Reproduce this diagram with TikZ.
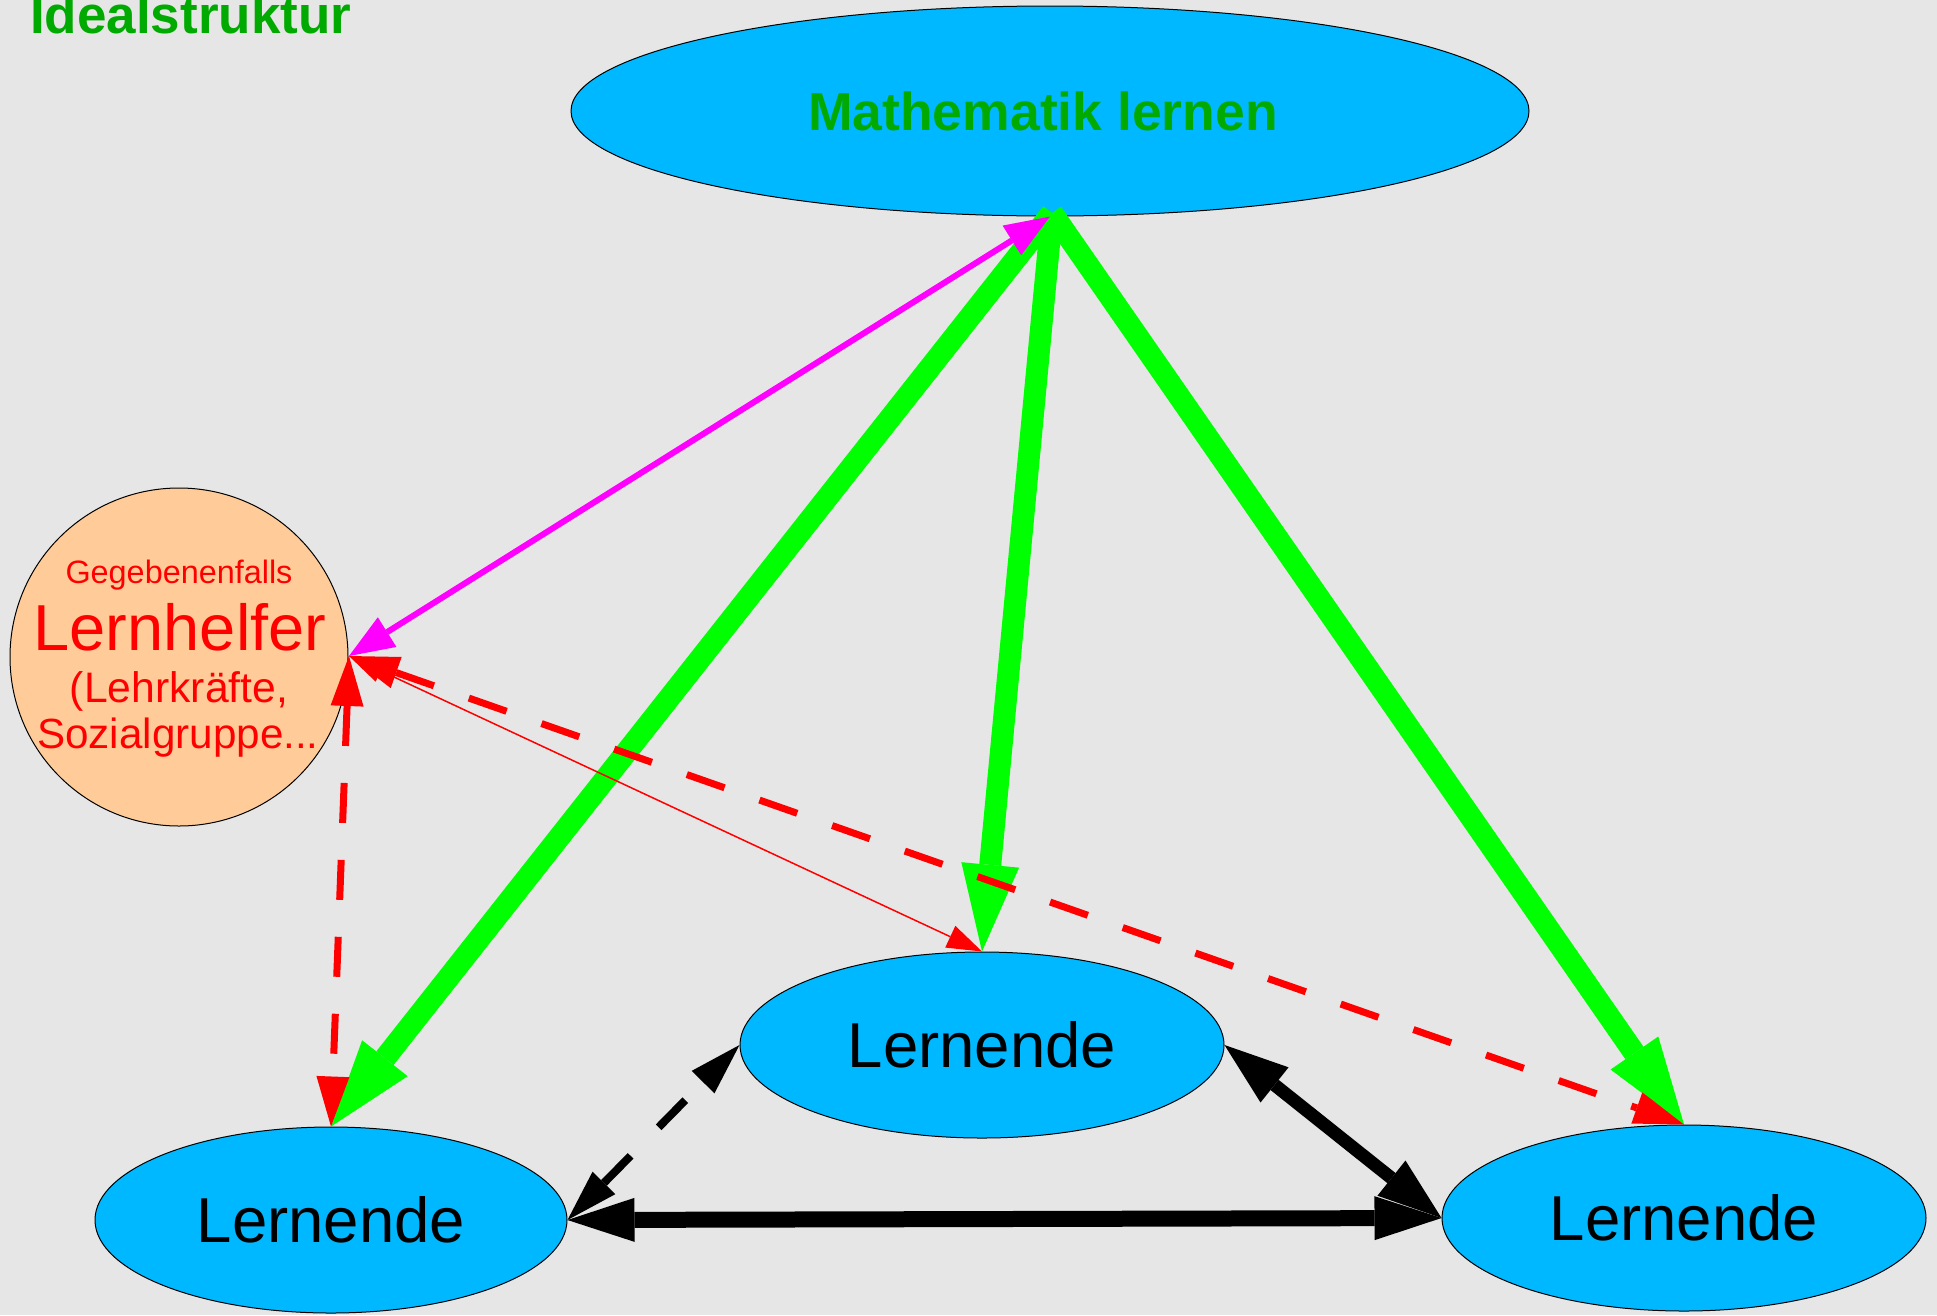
\documentclass[tikz,border=0pt]{standalone}
\usepackage{fontspec}
\setmainfont{Liberation Sans}
\usetikzlibrary{arrows.meta,shapes.geometric}
\definecolor{bg}{RGB}{230,230,230}
\definecolor{sky}{RGB}{0,184,255}
\definecolor{peach}{RGB}{255,204,153}
\definecolor{dgreen}{RGB}{0,170,0}
\definecolor{lgreen}{RGB}{0,255,0}
\definecolor{mag}{RGB}{255,0,255}
\begin{document}
\begin{tikzpicture}[x=1pt,y=-1pt,
  oval/.style={ellipse, draw=black, line width=1pt, fill=sky, inner sep=0pt},
  lern/.style={oval, minimum width=484pt, minimum height=186pt, font=\fontsize{63.5}{70}\selectfont},
  greenarrow/.style={draw=lgreen, line width=22pt, -{Triangle[length=87pt,width=58pt,line width=0pt]}},
  magarrow/.style={draw=mag, line width=6pt, {Triangle[length=45pt,width=35pt,line width=0pt]}-{Triangle[length=45pt,width=35pt,line width=0pt]}},
  reddash/.style={draw=red, line width=7pt, dash pattern=on 40pt off 37pt, {Triangle[length=50pt,width=33pt,line width=0pt]}-{Triangle[length=50pt,width=33pt,line width=0pt]}},
  redthin/.style={draw=red, line width=1.5pt, {Triangle[length=35pt,width=24pt,line width=0pt]}-{Triangle[length=35pt,width=24pt,line width=0pt]}},
  blackthick/.style={draw=black, line width=16pt, {Triangle[length=67pt,width=44pt,line width=0pt]}-{Triangle[length=67pt,width=44pt,line width=0pt]}},
  blackmid/.style={draw=black, line width=13pt, {Triangle[length=64pt,width=45pt,line width=0pt]}-{Triangle[length=64pt,width=45pt,line width=0pt]}},
  blackdash/.style={draw=black, line width=8pt, dash pattern=on 38pt off 40pt, {Triangle[length=52pt,width=32pt,line width=0pt]}-{Triangle[length=52pt,width=32pt,line width=0pt]}},
  helfertext/.style={text=red, anchor=base, inner sep=0pt}
]
\fill[bg] (0,0) rectangle (1937,1315);
\useasboundingbox (0,0) rectangle (1937,1315);

\node[anchor=base west, inner sep=0pt, text=dgreen, font=\fontsize{53}{60}\selectfont\bfseries] (title) at (30,33) {Idealstruktur};

\node[oval, minimum width=958pt, minimum height=210pt] (top) at (1050,111) {};
\node[anchor=base, inner sep=0pt, text=dgreen, font=\fontsize{53.5}{60}\selectfont\bfseries] (toptext) at (1043,130) {Mathematik lernen};

\node[circle, draw=black, line width=1pt, fill=peach, minimum size=338pt, inner sep=0pt] (helfer) at (179,657) {};
\node[helfertext, font=\fontsize{32.4}{36}\selectfont] (h1) at (179,583) {Gegebenenfalls};
\node[helfertext, font=\fontsize{65}{70}\selectfont] (h2) at (180,650) {Lernhelfer};
\node[helfertext, font=\fontsize{42.7}{48}\selectfont] (h3) at (179,702) {(Lehrkräfte,};
\node[helfertext, font=\fontsize{42.2}{48}\selectfont] (h4) at (178,748) {Sozialgruppe...};

\node[lern] (mid) at (982,1045) {Lernende};
\node[lern, minimum width=472pt] (left) at (331,1220) {Lernende};
\node[lern] (right) at (1684,1218) {Lernende};

\coordinate (topS) at (1052,213);
\coordinate (helferE) at (349,656);

\draw[greenarrow] (topS) -- (left.north);
\draw[greenarrow] (topS) -- (mid.north);
\draw[greenarrow] (topS) -- (right.north);

\draw[reddash] (helferE) -- (left.north);
\draw[reddash] (helferE) -- (right.north);
\draw[redthin] (helferE) -- (mid.north);
\draw[magarrow] (helferE) -- (top.south);

\draw[blackthick] (left.east) -- (right.west);
\draw[blackmid] (mid.east) -- (right.west);
\draw[blackdash] (left.east) -- (mid.west);
\end{tikzpicture}
\end{document}
